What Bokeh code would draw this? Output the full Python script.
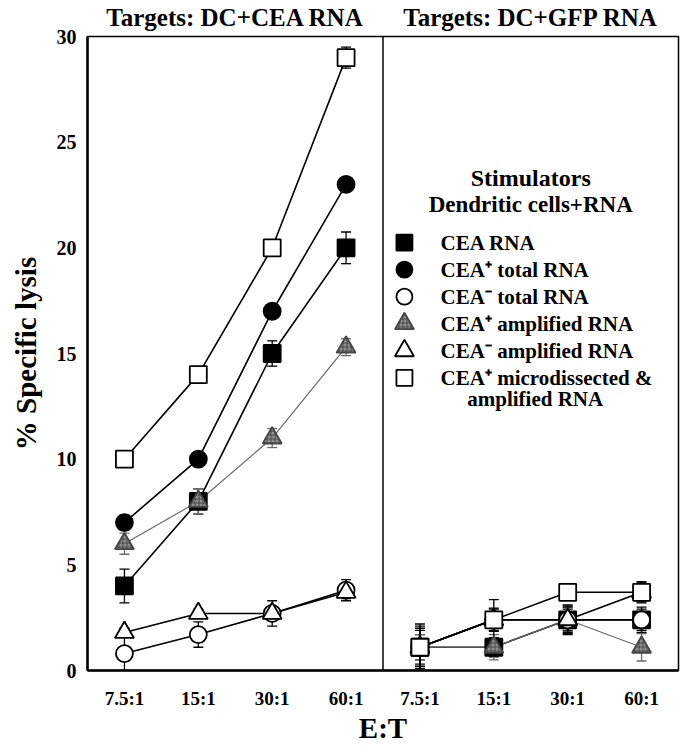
from bokeh.plotting import figure
from bokeh.models import (ColumnDataSource, Whisker, TeeHead, Span,
                          FixedTicker, LinearAxis)
from bokeh.core.properties import value
from bokeh.embed import file_html
from bokeh.resources import INLINE

# ---------------- data ----------------
categories = ["7.5:1", "15:1", "30:1", "60:1"]
panel_titles = ["Targets: DC+CEA RNA", "Targets: DC+GFP RNA"]
legend_header = ["Stimulators", "Dendritic cells+RNA"]
labels = ["CEA RNA", "CEA\u207a total RNA", "CEA\u207b total RNA",
          "CEA\u207a amplified RNA", "CEA\u207b amplified RNA",
          "CEA\u207a microdissected &"]
label_extra_line = "amplified RNA"

# Targets: DC+CEA RNA (left panel)
cea_rna_L = [4.0, 8.0, 15.0, 20.0]
cea_rna_L_err = [0.8, 0.6, 0.6, 0.75]
pos_total_L = [7.0, 10.0, 17.0, 23.0]
pos_total_L_err = [0.35, 0.35, 0.3, 0.3]
neg_total_L = [0.8, 1.7, 2.7, 3.8]
neg_total_L_err = [0.8, 0.6, 0.6, 0.5]
pos_amp_L = [6.0, 8.0, 11.0, 15.3]
pos_amp_L_err = [0.5, 0.6, 0.45, 0.4]
neg_amp_L = [1.8, 2.7, 2.7, 3.7]
neg_amp_L_err = [0.2, 0.2, 0.3, 0.3]
micro_L = [10.0, 14.0, 20.0, 29.0]
micro_L_err = [0.2, 0.2, 0.2, 0.5]

# Targets: DC+GFP RNA (right panel)
cea_rna_R = [1.1, 1.1, 2.4, 2.4]
cea_rna_R_err = [0.6, 0.45, 0.5, 0.4]
pos_total_R = [1.1, 2.4, 2.4, 2.4]
pos_total_R_err = [0.8, 0.5, 0.6, 0.6]
neg_total_R = [1.1, 2.4, 2.4, 2.4]
neg_total_R_err = [1.0, 0.55, 0.7, 0.5]
pos_amp_R = [1.1, 1.1, 2.4, 1.1]
pos_amp_R_err = [0.6, 0.6, 0.55, 0.65]
neg_amp_R = [1.1, 2.4, 2.4, 3.7]
neg_amp_R_err = [0.9, 0.4, 0.65, 0.5]
micro_R = [1.1, 2.4, 3.7, 3.7]
micro_R_err = [1.1, 0.95, 0.15, 0.45]

# ---------------- styles ----------------
FONT = "Liberation Serif"
GRAY = "#8e8e8e"
series = [
    # (legend index, left, left err, right, right err, marker, fill, edge, line color, line width, size)
    (0, cea_rna_L, cea_rna_L_err, cea_rna_R, cea_rna_R_err, "square", "black", "black", "black", 1.6, 17),
    (3, pos_amp_L, pos_amp_L_err, pos_amp_R, pos_amp_R_err, "triangle", GRAY, "#444444", "#6a6a6a", 1.2, 19),
    (1, pos_total_L, pos_total_L_err, pos_total_R, pos_total_R_err, "circle", "black", "black", "black", 1.6, 17),
    (2, neg_total_L, neg_total_L_err, neg_total_R, neg_total_R_err, "circle", "white", "black", "black", 1.6, 17),
    (4, neg_amp_L, neg_amp_L_err, neg_amp_R, neg_amp_R_err, "triangle", "white", "black", "black", 1.6, 19),
    (5, micro_L, micro_L_err, micro_R, micro_R_err, "square", "white", "black", "black", 1.6, 17),
]

def marker_kw(fc, ec):
    kw = dict(fill_color=fc, line_color=ec, line_width=1.8)
    if fc == GRAY:
        kw.update(hatch_pattern="cross", hatch_color="#333333", hatch_scale=4, hatch_weight=0.7)
    return kw

xL = [i + 1 for i in range(len(categories))]
xR = [i + 1 + len(categories) for i in range(len(categories))]

p = figure(width=686, height=748, x_range=(0.5, 8.5), y_range=(0, 30),
           output_backend="svg", toolbar_location=None,
           min_border_left=87, min_border_right=8, min_border_top=33,
           min_border_bottom=78)
p.xgrid.visible = False
p.ygrid.visible = False
p.outline_line_color = "black"
p.outline_line_width = 1.5
p.background_fill_color = "white"
p.border_fill_color = "white"

bottom_axis = p.below[0]
left_axis = p.left[0]
top_axis = LinearAxis()
p.add_layout(top_axis, "above")

left_axis.ticker = FixedTicker(ticks=[0, 5, 10, 15, 20, 25, 30])
bottom_axis.ticker = FixedTicker(ticks=xL + xR)
bottom_axis.major_label_overrides = {x: c for x, c in zip(xL + xR, categories + categories)}
top_axis.ticker = FixedTicker(ticks=[2.5, 6.5])
top_axis.major_label_overrides = {2.5: panel_titles[0], 6.5: panel_titles[1]}

for ax in (bottom_axis, left_axis, top_axis):
    ax.major_tick_line_color = None
    ax.minor_tick_line_color = None
    ax.axis_line_width = 2.5
    ax.axis_line_color = "black"
    ax.major_label_text_font = FONT
    ax.major_label_text_font_style = "bold"
    ax.major_label_text_color = "black"
    ax.axis_label_text_font = FONT
    ax.axis_label_text_font_style = "bold"
    ax.axis_label_text_font_size = "29px"
    ax.axis_label_text_color = "black"

top_axis.axis_line_color = None
top_axis.major_label_text_font_size = "25px"
top_axis.major_label_standoff = 0

left_axis.major_label_text_font_size = "20px"
left_axis.major_label_standoff = 5
left_axis.axis_label = "% Specific lysis"
left_axis.axis_label_standoff = 12

bottom_axis.major_label_text_font_size = "19px"
bottom_axis.major_label_standoff = 11
bottom_axis.axis_label = "E:T"
bottom_axis.axis_label_standoff = 0

p.add_layout(Span(location=4.5, dimension="height", line_color="black", line_width=1.5))

# lines
for (li, yl, el, yr, er, mk, fc, ec, lcol, lw, sz) in series:
    p.line(xL, yl, line_color=lcol, line_width=lw)
    p.line(xR, yr, line_color=lcol, line_width=lw)

# error bars
for (li, yl, el, yr, er, mk, fc, ec, lcol, lw, sz) in series:
    ys = yl + yr
    es = el + er
    src = ColumnDataSource(dict(x=xL + xR,
                                lower=[max(0, y - e) for y, e in zip(ys, es)],
                                upper=[y + e for y, e in zip(ys, es)]))
    w = Whisker(source=src, base="x", lower="lower", upper="upper",
                dimension="height", line_color=lcol, line_width=1.3,
                upper_head=TeeHead(size=10, line_color=lcol, line_width=1.3),
                lower_head=TeeHead(size=10, line_color=lcol, line_width=1.3))
    p.add_layout(w)

# markers
for (li, yl, el, yr, er, mk, fc, ec, lcol, lw, sz) in series:
    p.scatter(xL + xR, yl + yr, marker=mk, size=sz, **marker_kw(fc, ec))

# ---------------- legend (key block inside the right panel) ----------------
LEG_TOP = 20.25      # y of first key row (data units)
LEG_STEP = 1.28      # row pitch (data units)
KEY_X = 4.79
TEXT_X = 5.28
HEAD_X = 6.5

p.text(x=[HEAD_X], y=[LEG_TOP + 3.05], text=[legend_header[0]], text_align="center",
       text_baseline="middle", text_font=value(FONT), text_font_style="bold",
       text_font_size=value("24px"), text_color="black")
p.text(x=[HEAD_X], y=[LEG_TOP + 1.8], text=[legend_header[1]], text_align="center",
       text_baseline="middle", text_font=value(FONT), text_font_style="bold",
       text_font_size=value("23px"), text_color="black")

for (li, yl, el, yr, er, mk, fc, ec, lcol, lw, sz) in series:
    ky = LEG_TOP - li * LEG_STEP
    p.scatter([KEY_X], [ky], marker=mk, size=sz - 1 if mk != "triangle" else sz,
              **marker_kw(fc, ec))

p.text(x=[TEXT_X] * len(labels), y=[LEG_TOP - i * LEG_STEP for i in range(len(labels))],
       text=labels, text_align="left", text_baseline="middle",
       text_font=value(FONT), text_font_style="bold", text_font_size=value("21px"),
       text_color="black")
p.text(x=[TEXT_X + 0.36], y=[LEG_TOP - (len(labels) - 1) * LEG_STEP - 1.02],
       text=[label_extra_line], text_align="left", text_baseline="middle",
       text_font=value(FONT), text_font_style="bold", text_font_size=value("21px"),
       text_color="black")

open("out.html", "w").write(file_html(p, INLINE))
